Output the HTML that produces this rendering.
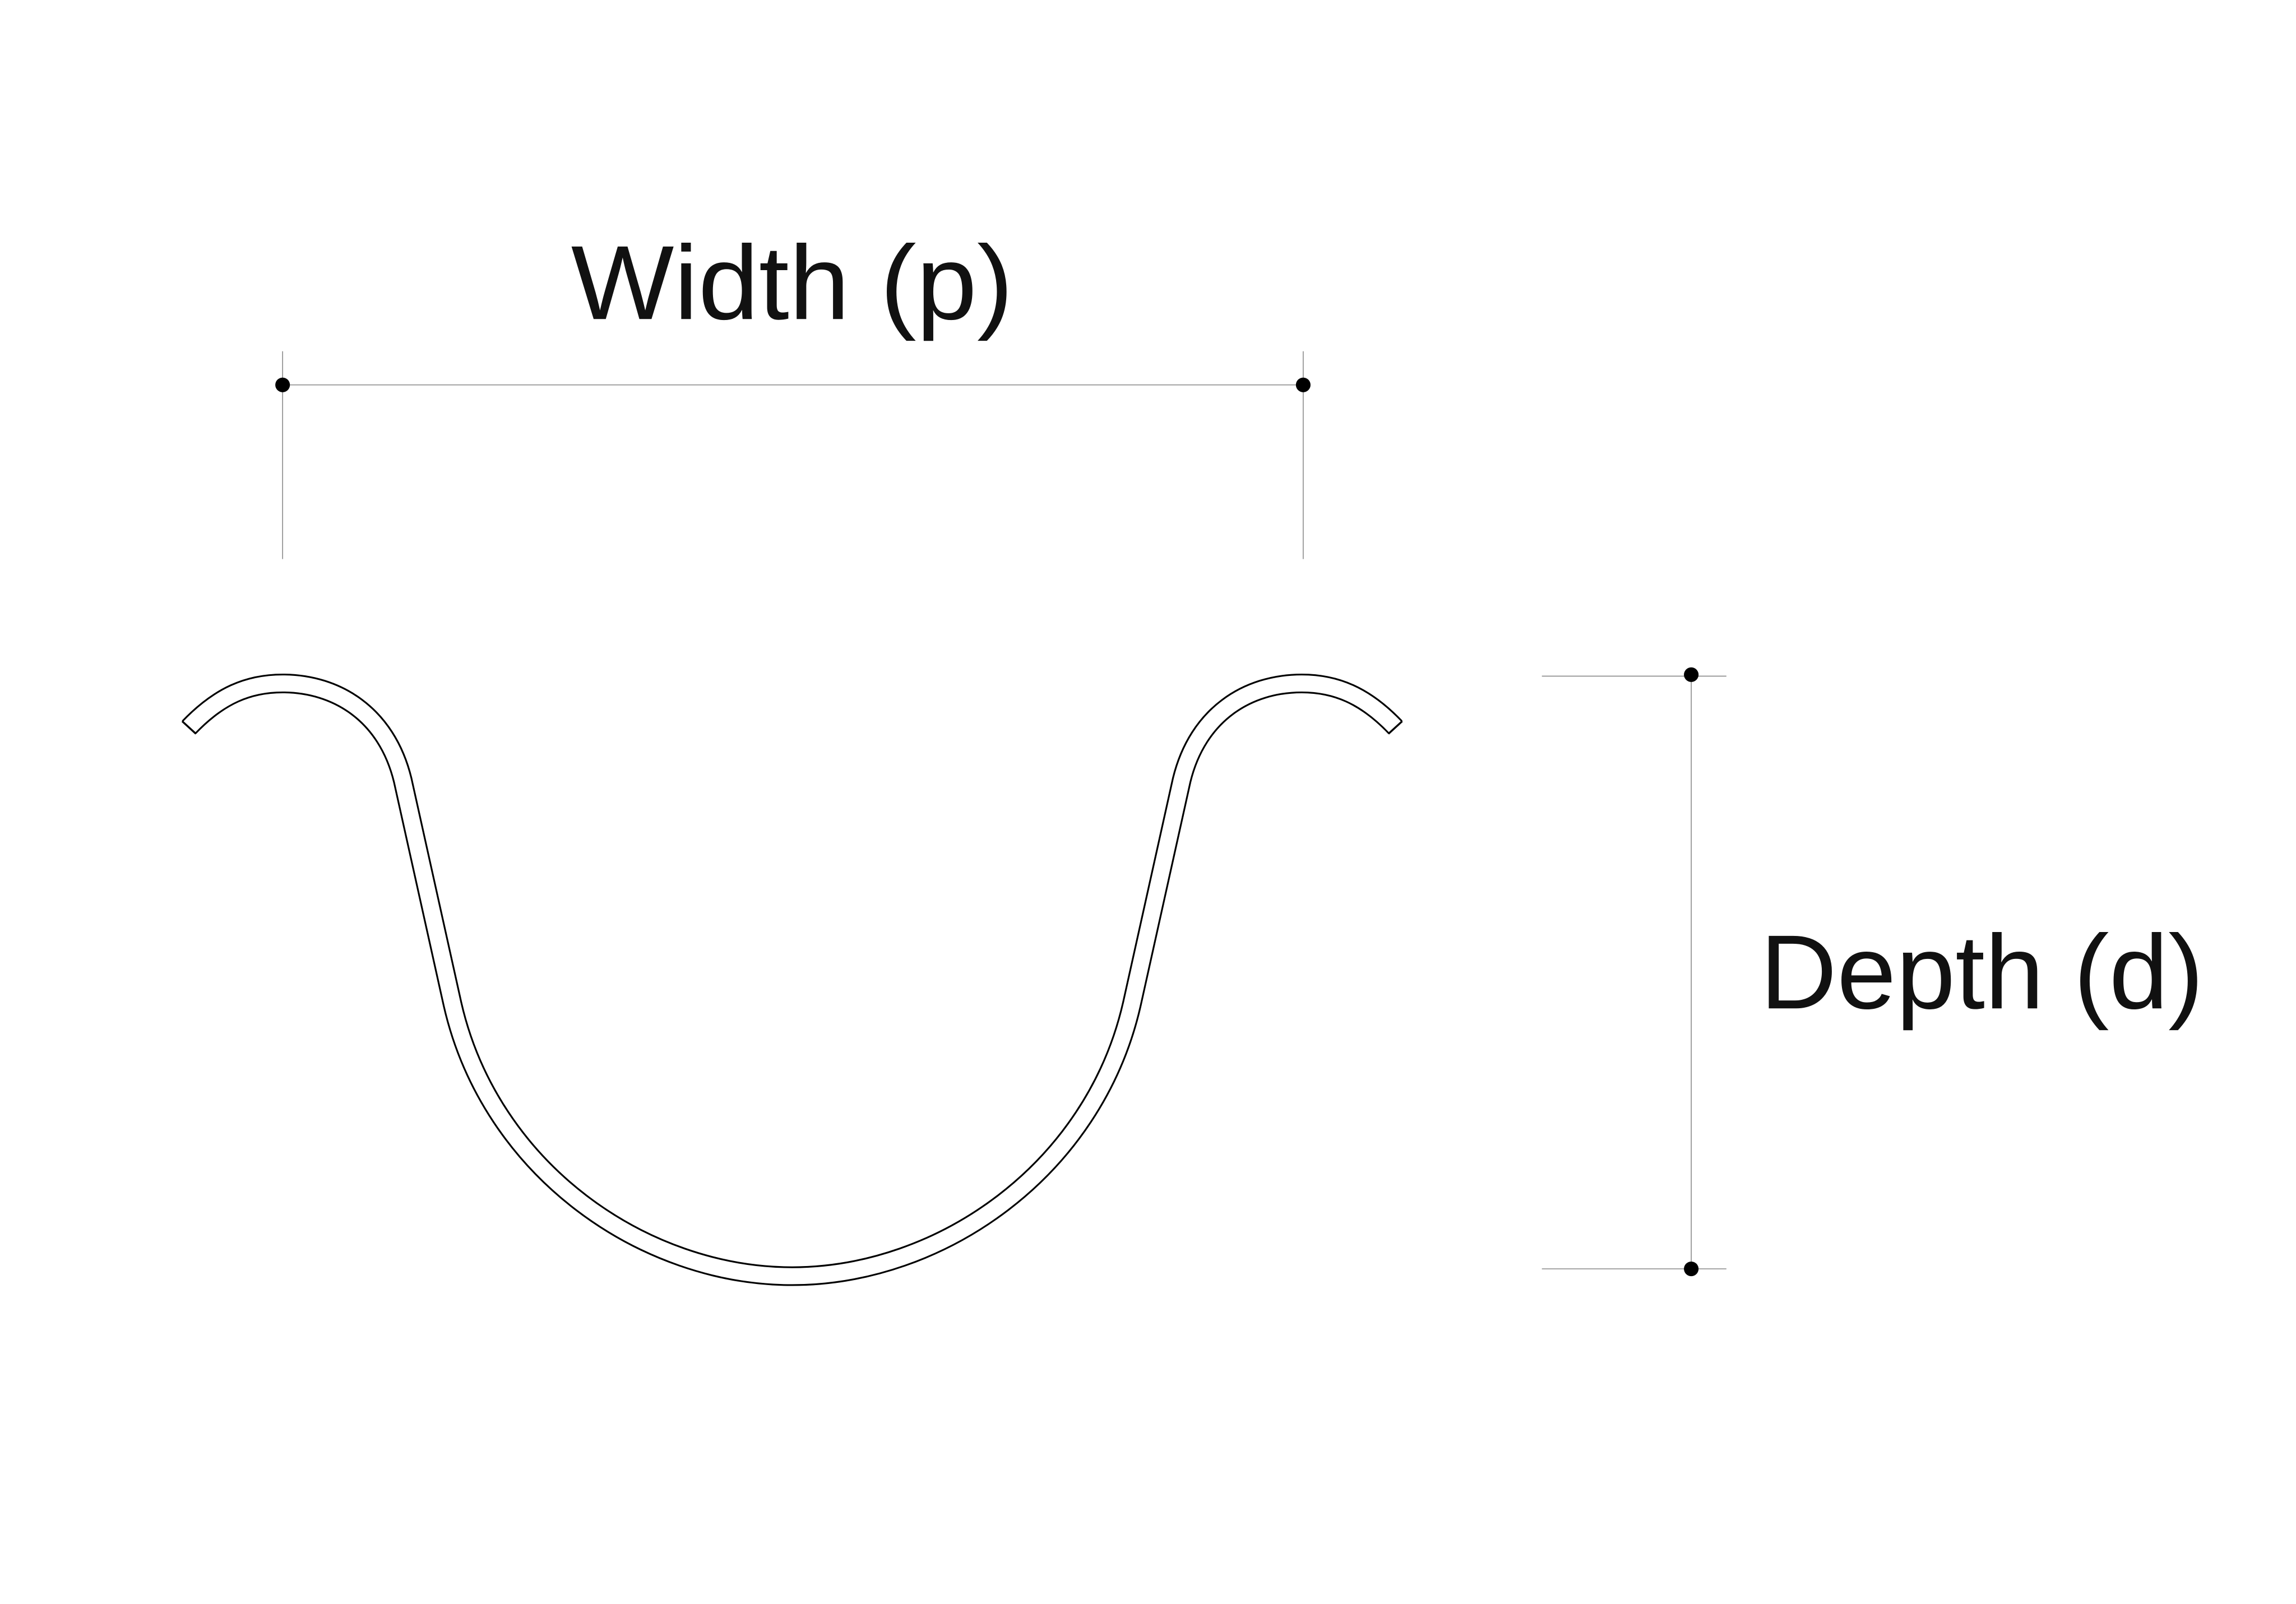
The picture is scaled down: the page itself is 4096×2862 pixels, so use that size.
<!DOCTYPE html>
<html><head><meta charset="utf-8"><style>
html,body{margin:0;padding:0;background:#fff;}
svg{display:block;}
</style></head><body>
<svg width="4096" height="2862" viewBox="0 0 1568 1096" preserveAspectRatio="none" xmlns="http://www.w3.org/2000/svg">
<rect width="1568" height="1096" fill="#fff"/>
<g fill="none" stroke-linejoin="round">
<path d="M129,497 C150,475 170,467 193,467 C230,467 264,488 275,533 L309,686 C335,800 440,872 541,872 C642,872 747,800 773,686 L807,533 C818,488 852,467 889,467 C912,467 932,475 953,497" stroke="#000" stroke-width="13.4" stroke-linecap="butt"/>
<path d="M129,497 C150,475 170,467 193,467 C230,467 264,488 275,533 L309,686 C335,800 440,872 541,872 C642,872 747,800 773,686 L807,533 C818,488 852,467 889,467 C912,467 932,475 953,497" stroke="#fff" stroke-width="11" stroke-linecap="butt"/>
</g>
<line x1="124.4" y1="492.8" x2="133.8" y2="501.4" stroke="#000" stroke-width="1.3"/>
<line x1="957.6" y1="492.8" x2="948.2" y2="501.4" stroke="#000" stroke-width="1.3"/>
<g stroke="#888" stroke-width="0.6">
<line x1="193" y1="263" x2="890" y2="263"/>
<line x1="193" y1="240" x2="193" y2="382"/>
<line x1="890" y1="240" x2="890" y2="382"/>
<line x1="1155" y1="461" x2="1155" y2="867"/>
<line x1="1053" y1="462" x2="1179" y2="462"/>
<line x1="1053" y1="867" x2="1179" y2="867"/>
</g>
<g fill="#000">
<circle cx="193" cy="263" r="5"/>
<circle cx="890" cy="263" r="5"/>
<circle cx="1155" cy="461" r="5"/>
<circle cx="1155" cy="867" r="5"/>
</g>
<g font-family="'Liberation Sans', sans-serif" font-size="72" fill="#111">
<text x="390" y="218" textLength="302" lengthAdjust="spacingAndGlyphs">Width (p)</text>
<text x="1202" y="689" textLength="303" lengthAdjust="spacingAndGlyphs">Depth (d)</text>
</g>
</svg>
</body></html>
